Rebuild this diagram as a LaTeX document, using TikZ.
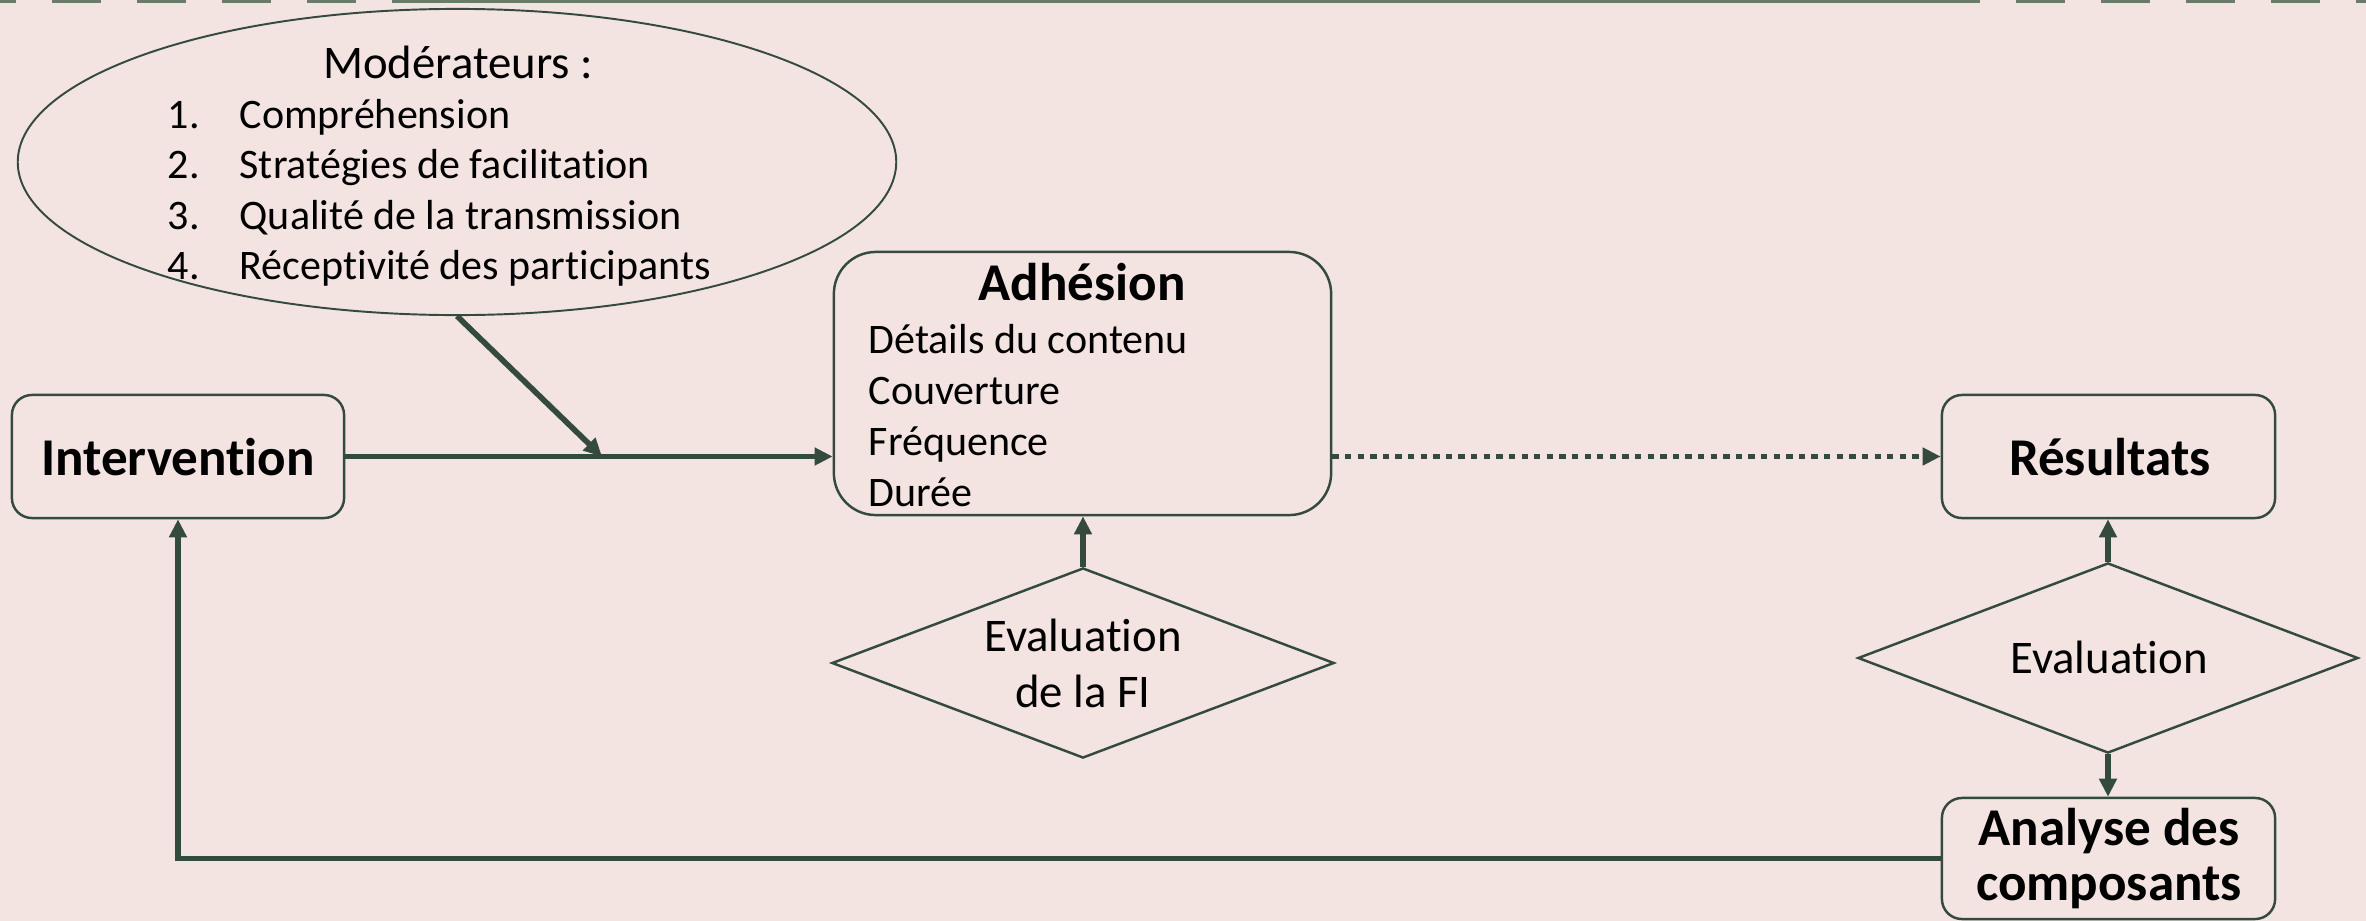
\documentclass[tikz,border=0pt]{standalone}
\usepackage{fontspec}
\setmainfont{Carlito}[Ligatures=NoCommon]
\usetikzlibrary{shapes.geometric,arrows.meta}
\definecolor{bg}{HTML}{F3E4E1}
\definecolor{edge}{HTML}{344A3D}
\definecolor{rulecol}{HTML}{6B7B6A}

\begin{document}
\begin{tikzpicture}[x=0.01cm,y=-0.01cm,
  box/.style={draw=edge,line width=0.7pt,rounded corners=0.2cm,inner sep=0pt},
  rhombus/.style={diamond,draw=edge,line width=0.7pt,inner sep=0pt},
  conn/.style={draw=edge,line width=1.6pt,-{Triangle[length=0.18cm,width=0.17cm]}},
  dotline/.style={dash pattern=on 0.063cm off 0.063cm},
  big/.style={font=\fontsize{15.1}{18}\selectfont\bfseries,inner sep=0pt},
  mid/.style={font=\fontsize{13.3}{16}\selectfont,inner sep=0pt},
  small/.style={font=\fontsize{11.95}{14.5}\selectfont,inner sep=0pt},
]
% background and page frame
\fill[bg] (0,0) rectangle (2366,921);
\useasboundingbox (0,0) rectangle (2366,921);

% decorative rule along the top edge
\coordinate (ra) at (0,1.2);
\coordinate (rb) at (393,1.2);
\coordinate (rc) at (1980,1.2);
\coordinate (rd) at (2016,1.2);
\coordinate (re) at (2366,1.2);
\draw[rulecol,line width=0.75pt,dash pattern=on 0.49cm off 0.36cm,dash phase=0.33cm] (ra) -- (rb);
\draw[rulecol,line width=0.75pt] (rb) -- (rc);
\draw[rulecol,line width=0.75pt,dash pattern=on 0.49cm off 0.36cm] (rd) -- (re);

% moderators
\node[ellipse,draw=edge,line width=0.55pt,minimum width=8.78cm,minimum height=3.06cm,inner sep=0pt] (mod) at (457,162) {};
\node[mid,anchor=base] (modt) at (458,78) {Modérateurs :};
\node[small,anchor=base west] (n1) at (167,128) {1.};
\node[small,anchor=base west] (n2) at (167,178) {2.};
\node[small,anchor=base west] (n3) at (167,229) {3.};
\node[small,anchor=base west] (n4) at (167,279) {4.};
\node[small,anchor=base west] (m1) at (239,128) {Compréhension};
\node[small,anchor=base west] (m2) at (239,178) {Stratégies de facilitation};
\node[small,anchor=base west] (m3) at (239,229) {Qualité de la transmission};
\node[small,anchor=base west] (m4) at (239,279) {Réceptivité des participants};

% boxes
\node[box,minimum width=3.32cm,minimum height=1.23cm] (int) at (178,456.5) {};
\node[big,anchor=base] (intt) at (178,475) {Intervention};

\node[box,rounded corners=0.42cm,minimum width=4.97cm,minimum height=2.63cm] (adh) at (1082.5,383.5) {};
\node[big,anchor=base] (adht) at (1082,300) {Adhésion};
\node[small,anchor=base west] (a1) at (868,353) {Détails du contenu};
\node[small,anchor=base west] (a2) at (868,404) {Couverture};
\node[small,anchor=base west] (a3) at (868,455) {Fréquence};
\node[small,anchor=base west] (a4) at (868,506) {Durée};

\node[box,minimum width=3.33cm,minimum height=1.23cm] (res) at (2108.5,456.5) {};
\node[big,anchor=base] (rest) at (2110,475) {Résultats};

\node[box,minimum width=3.33cm,minimum height=1.21cm] (ana) at (2108.5,858.5) {};
\node[big,anchor=base] (ana1) at (2109,845) {Analyse des};
\node[big,anchor=base] (ana2) at (2109,900) {composants};

% evaluation diamonds
\node[rhombus,minimum width=5.02cm,minimum height=1.90cm] (fi) at (1083,663) {};
\node[mid,anchor=base] (fi1) at (1083,651) {Evaluation};
\node[mid,anchor=base] (fi2) at (1083,707) {de la FI};

\node[rhombus,minimum width=5.00cm,minimum height=1.90cm] (ev) at (2108,658) {};
\node[mid,anchor=base] (evt) at (2109,673) {Evaluation};

% connectors
\coordinate (join) at (602,456.5);
\draw[conn] (mod.south) -- (join);
\draw[conn] (int.east) -- (int.east -| adh.west);
\draw[conn,dotline] (int.east -| adh.east) -- (res.west);
\draw[conn] (fi.north) -- (fi.north |- adh.south);
\draw[conn] (ev.north) -- (ev.north |- res.south);
\draw[conn] (ev.south) -- (ev.south |- ana.north);
\draw[conn] (ana.west) -| (int.south);
\end{tikzpicture}
\end{document}
